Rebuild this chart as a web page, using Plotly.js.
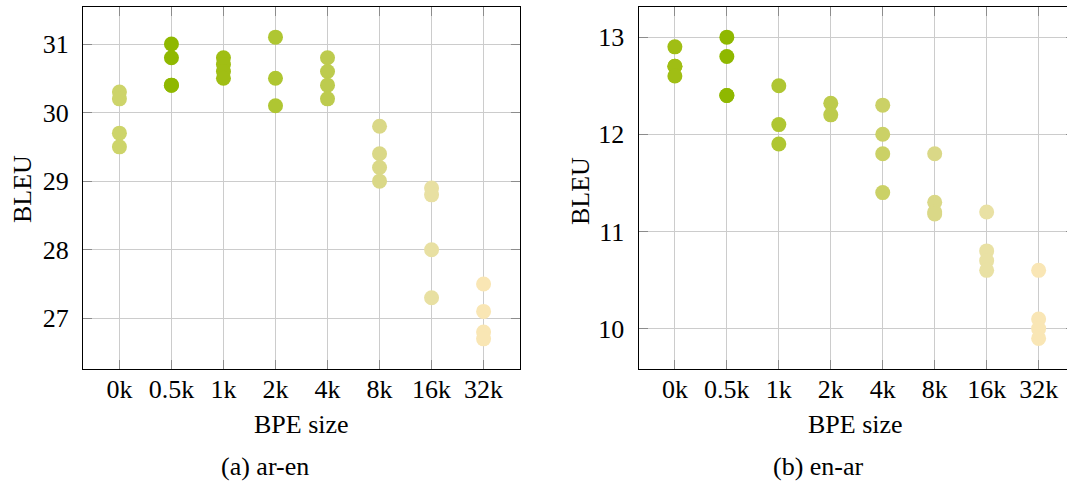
<!DOCTYPE html>
<html>
<head>
<meta charset="utf-8">
<script src="https://cdn.plot.ly/plotly-3.0.1.min.js"></script>
<style>
html, body { margin: 0; padding: 0; overflow: hidden; background: #fff; }
#chart { width: 1080px; height: 484px; }
</style>
</head>
<body>
<div id="chart"></div>
<script>
// ---- data ----
var categories = ['0k', '0.5k', '1k', '2k', '4k', '8k', '16k', '32k'];

// BLEU scores of the runs for each BPE size, ar-en
var arEnScores = [
  [30.3, 30.2, 29.7, 29.5],
  [31.0, 30.8, 30.4, 30.4],
  [30.8, 30.7, 30.6, 30.5],
  [31.1, 30.5, 30.1],
  [30.8, 30.6, 30.4, 30.2],
  [29.8, 29.4, 29.2, 29.0],
  [28.9, 28.8, 28.0, 27.3],
  [27.5, 27.1, 26.8, 26.7]
];
// BLEU scores of the runs for each BPE size, en-ar
var enArScores = [
  [12.9, 12.7, 12.7, 12.6],
  [13.0, 12.8, 12.4, 12.4],
  [12.5, 12.1, 11.9],
  [12.32, 12.2],
  [12.3, 12.0, 11.8, 11.4],
  [11.8, 11.3, 11.2, 11.18],
  [11.2, 10.8, 10.7, 10.6],
  [10.6, 10.1, 10.0, 9.9]
];

var arEnColors = ['#cdd46a', '#8fb800', '#a0be14', '#afc632', '#bdcb4e', '#dad887', '#e8e0a2', '#f9e6b4'];
var enArColors = ['#a0be14', '#8fb800', '#afc632', '#bdcb4c', '#cbd166', '#dad887', '#e9e1a4', '#f9e6b5'];

var yTicksArEn = [27, 28, 29, 30, 31];
var yTicksEnAr = [10, 11, 12, 13];

// ---- layout helpers ----
var W = 1080, H = 484;
function px(x) { return x / W; }
function py(y) { return 1 - y / H; }

function buildTrace(scores, colors, xa, ya) {
  var xs = [], ys = [], cs = [];
  scores.forEach(function (list, i) {
    list.forEach(function (v) { xs.push(categories[i]); ys.push(v); cs.push(colors[i]); });
  });
  return {
    type: 'scatter', mode: 'markers', x: xs, y: ys, xaxis: xa, yaxis: ya,
    marker: { size: 15, color: cs, line: { width: 0 } },
    hoverinfo: 'x+y', showlegend: false
  };
}

function mkFont() { return { family: 'Liberation Serif', size: 26, color: '#000' }; }

function xAxis(domain, anchor) {
  return {
    domain: domain, anchor: anchor, type: 'category',
    categoryorder: 'array', categoryarray: categories,
    range: [-0.7, 7.7],
    showline: true, linecolor: '#000', linewidth: 1, mirror: 'ticks',
    ticks: 'inside', ticklen: 9, tickcolor: '#8c8c8c', tickwidth: 1,
    showgrid: true, gridcolor: '#cccccc', gridwidth: 1,
    zeroline: false, tickfont: mkFont(), ticklabelstandoff: -3,
    fixedrange: true
  };
}
function yAxis(domain, anchor, range, tv) {
  return {
    domain: domain, anchor: anchor, range: range,
    tickvals: tv, ticktext: tv.map(String),
    showline: true, linecolor: '#000', linewidth: 1, mirror: 'ticks',
    ticks: 'inside', ticklen: 9, tickcolor: '#8c8c8c', tickwidth: 1,
    showgrid: true, gridcolor: '#cccccc', gridwidth: 1,
    zeroline: false, tickfont: mkFont(), ticklabelstandoff: 8,
    fixedrange: true
  };
}

var yDom = [py(369), py(7)];

var data = [
  buildTrace(arEnScores, arEnColors, 'x', 'y'),
  buildTrace(enArScores, enArColors, 'x2', 'y2')
];

function ann(text, x, y, angle) {
  return { text: text, xref: 'paper', yref: 'paper', x: px(x), y: py(y), textangle: angle || 0,
           showarrow: false, font: mkFont(), xanchor: 'center', yanchor: 'middle' };
}

var layout = {
  width: W, height: H,
  margin: { l: 0, r: 0, t: 0, b: 0, pad: 0 },
  paper_bgcolor: '#fff', plot_bgcolor: '#fff',
  font: mkFont(),
  xaxis: xAxis([px(83), px(520)], 'y'),
  yaxis: yAxis(yDom, 'x', [26.26, 31.54], yTicksArEn),
  xaxis2: xAxis([px(638.5), px(1075)], 'y2'),
  yaxis2: yAxis(yDom, 'x2', [9.585, 13.31], yTicksEnAr),
  annotations: [
    ann('BPE size', 301.5, 424),
    ann('BPE size', 855, 424),
    ann('(a) ar-en', 264.5, 466),
    ann('(b) en-ar', 818, 466),
    ann('BLEU', 22, 189, -90),
    ann('BLEU', 580, 191, -90)
  ]
};

Plotly.newPlot('chart', data, layout, { displayModeBar: false });
</script>
</body>
</html>
